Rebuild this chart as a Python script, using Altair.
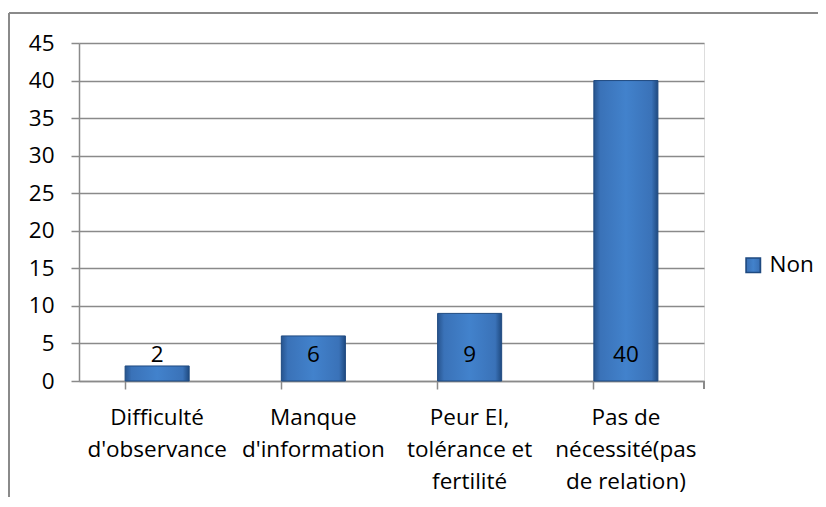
import altair as alt
import pandas as pd

categories = [
    "Difficulté\nd'observance",
    "Manque\nd'information",
    "Peur EI,\ntolérance et\nfertilité",
    "Pas de\nnécessité(pas\nde relation)",
]
values = [2, 6, 9, 40]
series = ["Non"] * 4
y_ticks = [0, 5, 10, 15, 20, 25, 30, 35, 40, 45]

df = pd.DataFrame({"cat": categories, "value": values, "series": series})

FONT = "Open Sans"
FS = 22.5
W, H = 625, 338

grad = alt.Gradient(
    gradient="linear", x1=0, x2=1, y1=0, y2=0,
    stops=[
        alt.GradientStop(offset=0, color="#27548e"),
        alt.GradientStop(offset=0.1, color="#3a72b8"),
        alt.GradientStop(offset=0.5, color="#4282cc"),
        alt.GradientStop(offset=0.9, color="#3a72b8"),
        alt.GradientStop(offset=1, color="#1f4a80"),
    ],
)

yscale = alt.Scale(domain=[0, 45], nice=False)
yaxis = alt.Axis(values=y_ticks, labelFontSize=FS, labelPadding=17,
                 tickSize=8, labelFont=FONT, labelColor="#000",
                 domainColor="#8a8a8a", tickColor="#8a8a8a", gridColor="#8a8a8a",
                 domainWidth=1.5, tickWidth=1.5, gridWidth=1.5)

x = alt.X(
    "cat:N", sort=categories, title=None,
    scale=alt.Scale(paddingInner=0.59, paddingOuter=0.295),
    axis=alt.Axis(labelAngle=0, labelFontSize=FS, labelLineHeight=32,
                  labelPadding=17, tickSize=8, bandPosition=0,
                  labelFont=FONT, labelColor="#000", labelExpr="split(datum.label, '\\n')",
                  domainColor="#8a8a8a", tickColor="#8a8a8a", domainWidth=1.5, tickWidth=1.5),
)

bars = alt.Chart(df).mark_bar(fill=grad, strokeWidth=1).encode(
    x=x,
    y=alt.Y("value:Q", title=None, scale=yscale, axis=yaxis),
    stroke=alt.Stroke("series:N", title=None,
                      scale=alt.Scale(domain=["Non"], range=["#1f4a80"]),
                      legend=alt.Legend(orient="none", legendX=663, legendY=211,
                                        symbolType="square", symbolSize=210,
                                        symbolFillColor="#3d78c0", symbolStrokeColor="#1f4a80",
                                        labelFontSize=FS, labelFont=FONT, labelColor="#000",
                                        labelOffset=5)),
)

labels = alt.Chart(df).transform_calculate(zero="0").mark_text(
    fontSize=FS, font=FONT, color="#000", dy=-26, baseline="middle"
).encode(
    x=x,
    y=alt.Y("zero:Q", title=None, scale=yscale, axis=yaxis),
    text="value:Q",
)

# last x-axis tick at the right end of the axis
end_tick = alt.Chart(df).mark_rule(color="#8a8a8a", strokeWidth=1.5).encode(
    x=alt.value(W), y=alt.value(H), y2=alt.value(H + 8)
)
# chart-area border (top and left)
border_top = alt.Chart(df).mark_rule(color="#8a8a8a", strokeWidth=1.5).encode(
    x=alt.value(-70), x2=alt.value(W + 140), y=alt.value(-30)
)
border_left = alt.Chart(df).mark_rule(color="#8a8a8a", strokeWidth=1.5).encode(
    x=alt.value(-70), y=alt.value(-30), y2=alt.value(H + 140)
)

chart = alt.layer(bars, labels, end_tick, border_top, border_left).properties(
    width=W, height=H,
    autosize=alt.AutoSizeParams(type="none"),
    padding={"left": 71, "top": 35, "right": 114, "bottom": 116},
).configure_view(stroke=None).configure(background="white")

chart.save("out.html", embed_options={"renderer": "svg", "actions": False})
